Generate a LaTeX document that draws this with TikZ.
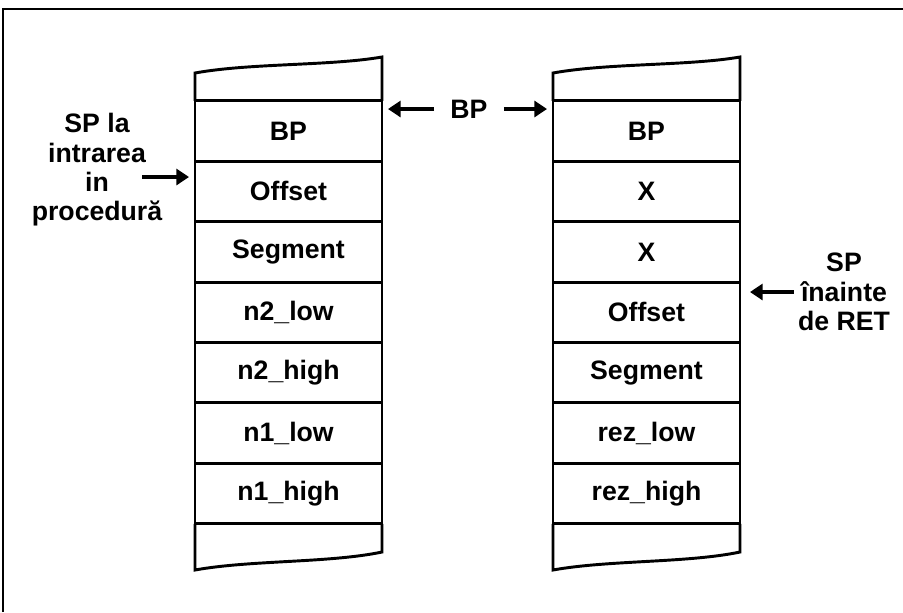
\documentclass[tikz,border=0pt]{standalone}
\usepackage{fontspec}
\setmainfont{Liberation Sans}
\usetikzlibrary{arrows.meta}
\tikzset{
  cell/.style={draw, line width=2.2pt, minimum width=140.25pt, minimum height=45.32pt,
    inner sep=0pt, outer sep=0pt, font=\bfseries\fontsize{20}{22}\selectfont},
  stackline/.style={line width=2.2pt, line join=miter},
  bigarrow/.style={line width=3.6pt, -{Triangle[length=9.5pt,width=12pt]}},
  lbl/.style={align=center, font=\bfseries\fontsize{20}{22}\selectfont, inner sep=3pt}
}
\begin{document}
\begin{tikzpicture}[x=0.75pt,y=-0.75pt]
\useasboundingbox (0,0) rectangle (903,612);
\draw[line width=1.1pt] (3,612) -- (3,9) -- (903,9); % frame
% left stack
\foreach \t [count=\i] in {BP,Offset,Segment,n2\_low,n2\_high,n1\_low,n1\_high}
  \node[cell] (a\i) at (288.5,{131+60.43*(\i-1)}) {\t};
% right stack
\foreach \t [count=\i] in {BP,X,X,Offset,Segment,rez\_low,rez\_high}
  \node[cell] (b\i) at (646.5,{131+60.43*(\i-1)}) {\t};
\foreach \s/\n in {0/a,358/b}{ % torn ends of the stacks
\draw[stackline,shift={(\s,0)}] (\n1.north west) -- (195,73) .. controls (250,63) and (330,66) .. (382,57) -- (\n1.north east);
\draw[stackline,shift={(\s,0)}] (\n7.south west) -- (195,570) .. controls (250,560) and (330,563) .. (382,552) -- (\n7.south east);}
% labels
\node[lbl] (spl) at (97,170) {SP la\\intrarea\\in\\procedură};
\node[lbl] (spr) at (844,292) {SP\\înainte\\de RET};
\node[lbl,inner xsep=12pt] (bp) at (469,109) {BP};
\coordinate (spt) at (142,177);
\coordinate (spin) at (189,177);
\coordinate (spret) at (750,292);
\coordinate (bpl) at (388,109);
\coordinate (bpr) at (547,109);
\draw[bigarrow] (spt) -- (spin);
\draw[bigarrow] (spr.west) -- (spret);
\draw[bigarrow] (bp.west) -- (bpl);
\draw[bigarrow] (bp.east) -- (bpr);
\end{tikzpicture}
\end{document}
